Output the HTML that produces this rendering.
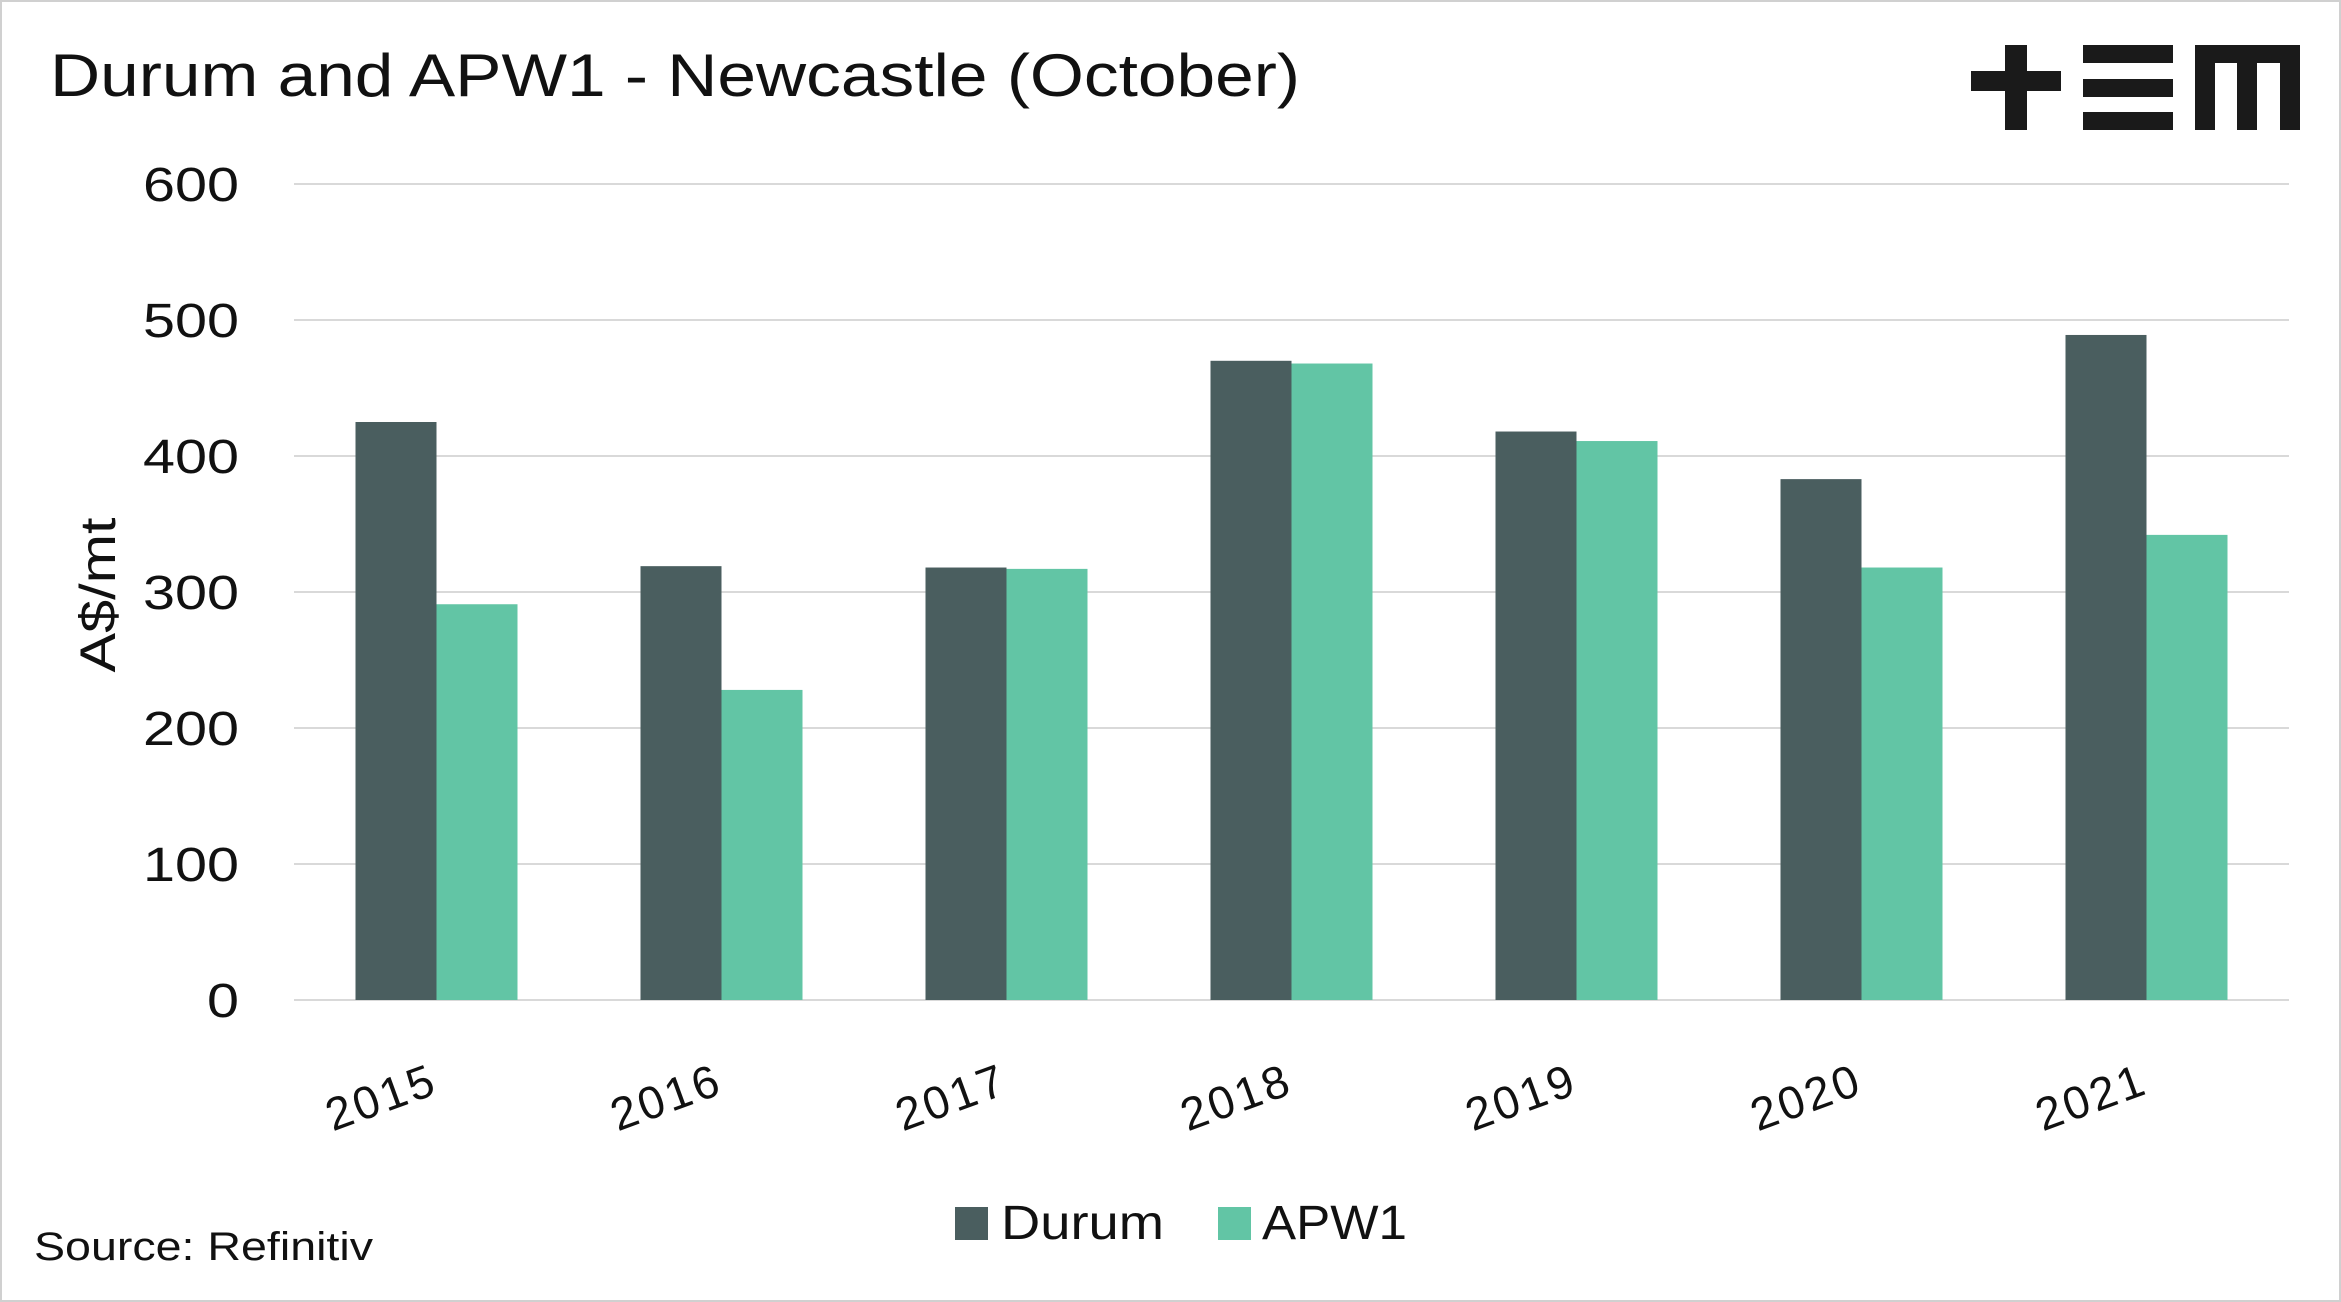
<!DOCTYPE html>
<html><head><meta charset="utf-8"><style>
html,body{margin:0;padding:0;background:#fff;}
svg{display:block;font-family:"Liberation Sans",sans-serif;}
</style></head><body>
<svg id="chart" width="2341" height="1302" viewBox="0 0 2341 1302" xmlns="http://www.w3.org/2000/svg">
<rect x="1" y="1" width="2339" height="1300" fill="#fff" stroke="#d0d0d0" stroke-width="2"/>
<text x="50" y="96" font-size="60" fill="#111" textLength="1250" lengthAdjust="spacingAndGlyphs">Durum and APW1 - Newcastle (October)</text>
<g fill="#1a1a1a">
<rect x="1971" y="71" width="90" height="20"/><rect x="2005" y="45" width="22" height="85"/>
<rect x="2083" y="45" width="90" height="18"/><rect x="2083" y="79" width="90" height="18"/><rect x="2083" y="112" width="90" height="18"/>
<rect x="2195" y="45" width="105" height="18"/><rect x="2195" y="45" width="20" height="85"/><rect x="2237" y="45" width="20" height="85"/><rect x="2280" y="45" width="20" height="85"/>
</g>
<g id="grid"></g>
<g id="yticks"></g>
<g id="bars"></g>
<g id="xticks"></g>
<text transform="translate(115,595) rotate(-90)" text-anchor="middle" font-size="50" fill="#111" textLength="155" lengthAdjust="spacingAndGlyphs">A$/mt</text>
<g>
<rect x="955" y="1207" width="33" height="33" fill="#4a5e5f"/>
<text x="1001" y="1239" font-size="48" fill="#111" textLength="163" lengthAdjust="spacingAndGlyphs">Durum</text>
<rect x="1218" y="1207" width="33" height="33" fill="#62c5a5"/>
<text x="1262" y="1239" font-size="48" fill="#111" textLength="145" lengthAdjust="spacingAndGlyphs">APW1</text>
</g>
<text x="34" y="1260" font-size="40" fill="#111" textLength="339" lengthAdjust="spacingAndGlyphs">Source: Refinitiv</text>
<script>
const categories = ["2015","2016","2017","2018","2019","2020","2021"];
const durum = [425, 319, 318, 470, 418, 383, 489];
const apw1 = [291, 228, 317, 468, 411, 318, 342];
const yTicks = [0, 100, 200, 300, 400, 500, 600];
const NS = "http://www.w3.org/2000/svg";
const x0 = 294, x1 = 2289, yTop = 184, yBot = 1000, yMax = 600;
const y = v => yBot - (v / yMax) * (yBot - yTop);
const bw = (x1 - x0) / categories.length;
const barW = 81;
function mk(tag, attrs, parent) { const e = document.createElementNS(NS, tag); for (const k in attrs) e.setAttribute(k, attrs[k]); parent.appendChild(e); return e; }
const grid = document.getElementById("grid"), yt = document.getElementById("yticks"), bars = document.getElementById("bars"), xt = document.getElementById("xticks");
yTicks.forEach(t => {
  const l = mk("line", {x1: x0, x2: x1, y1: y(t), y2: y(t), stroke: "#d9d9d9", "stroke-width": 2}, grid);
  
  
  const s = String(t);
  const tx = mk("text", {x: 239, y: y(t) + 17, "text-anchor": "end", "font-size": 48, fill: "#111", textLength: 32 * s.length, lengthAdjust: "spacingAndGlyphs"}, yt);
  
  
  tx.textContent = s;
});
categories.forEach((c, i) => {
  const cx = x0 + bw * (i + 0.5);
  const b1 = mk("rect", {x: cx - barW, y: y(durum[i]), width: barW, height: yBot - y(durum[i]), fill: "#4a5e5f"}, bars);
  
  
  const b2 = mk("rect", {x: cx, y: y(apw1[i]), width: barW, height: yBot - y(apw1[i]), fill: "#62c5a5"}, bars);
  
  
  const tx = mk("text", {transform: `translate(${cx - 50},${1112}) rotate(-20)`, "text-anchor": "middle", "font-size": 46, "letter-spacing": 3, fill: "#111"}, xt);
  
  
  tx.textContent = c;
});
</script>
</svg>
</body></html>
